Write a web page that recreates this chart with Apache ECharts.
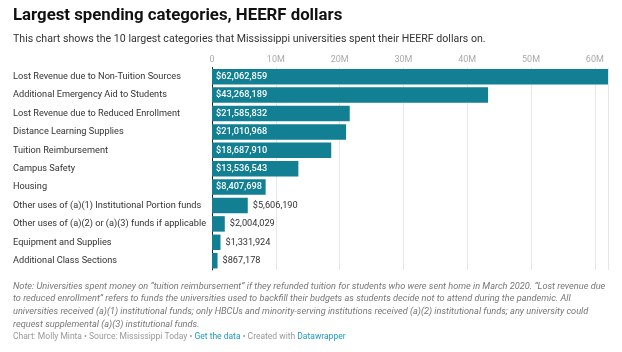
<!DOCTYPE html>
<html><head><meta charset="utf-8">
<script src="https://cdn.jsdelivr.net/npm/echarts@6/dist/echarts.min.js"></script>
<style>html,body{margin:0;padding:0;background:#fff}#c{width:622px;height:352px}</style>
</head><body><div id="c"></div>
<script>
const categories = [
  "Lost Revenue due to Non-Tuition Sources",
  "Additional Emergency Aid to Students",
  "Lost Revenue due to Reduced Enrollment",
  "Distance Learning Supplies",
  "Tuition Reimbursement",
  "Campus Safety",
  "Housing",
  "Other uses of (a)(1) Institutional Portion funds",
  "Other uses of (a)(2) or (a)(3) funds if applicable",
  "Equipment and Supplies",
  "Additional Class Sections"
];
const values = [62062859, 43268189, 21585832, 21010968, 18687910, 13536543, 8407698, 5606190, 2004029, 1331924, 867178];
const tickLabels = ["0", "10M", "20M", "30M", "40M", "50M", "60M"];
const noteLines = [
  "Note: Universities spent money on \u201ctuition reimbursement\u201d if they refunded tuition for students who were sent home in March 2020. \u201cLost revenue due",
  "to reduced enrollment\u201d refers to funds the universities used to backfill their budgets as students decide not to attend during the pandemic. All",
  "universities received (a)(1) institutional funds; only HBCUs and minority-serving institutions received (a)(2) institutional funds; any university could",
  "request supplemental (a)(3) institutional funds."
];

const fmt = v => "$" + v.toLocaleString("en-US");
const FONT = "Roboto, 'Noto Sans', sans-serif";
const insideThreshold = 8000000;

const chart = echarts.init(document.getElementById('c'), null, {renderer: 'canvas'});
const data = values.map(v => ({
  value: v,
  label: v >= insideThreshold
    ? {position: 'insideLeft', color: '#fff', fontWeight: 500, distance: 4}
    : {position: 'right', color: '#333', fontWeight: 'normal', distance: 5}
}));

const graphics = [
  {type: 'text', left: 13, top: 7, style: {text: "Largest spending categories, HEERF dollars", font: "bold 16.8px " + FONT, fill: '#111'}},
  {type: 'text', left: 13, top: 34, style: {text: "This chart shows the 10 largest categories that Mississippi universities spent their HEERF dollars on.", font: "10.6px " + FONT, fill: '#333'}}
];
noteLines.forEach((t, i) => graphics.push({type: 'text', left: 13, top: 282 + i * 12.6, style: {text: t, font: "italic 9.2px " + FONT, fill: '#777'}}));
graphics.push({type: 'text', left: 13, top: 332, style: {
  rich: {g: {fill: '#999', font: "8.5px " + FONT}, l: {fill: '#1d9bc0', font: "8.5px " + FONT}},
  text: "{g|Chart: Molly Minta \u2022 Source: Mississippi Today \u2022 }{l|Get the data}{g| \u2022 Created with }{l|Datawrapper}"
}});

chart.setOption({
  animation: false,
  grid: {left: 212, right: 14, top: 67.5, height: 202.4, containLabel: false},
  xAxis: {
    type: 'value', position: 'top', min: 0, max: values[0], interval: 10000000,
    axisLine: {show: false}, axisTick: {show: false},
    axisLabel: {showMaxLabel: false, color: '#aaa', fontSize: 9, fontFamily: FONT, margin: 3,
      formatter: v => tickLabels[Math.round(v / 10000000)] || ''},
    splitLine: {lineStyle: {color: '#e6e6e6', width: 1}}
  },
  yAxis: {
    type: 'category', data: categories, inverse: true,
    axisLine: {show: true, onZero: false, lineStyle: {color: '#222', width: 1}},
    axisTick: {show: false},
    axisLabel: {align: 'left', margin: 199, color: '#333', fontSize: 9.2, fontFamily: FONT}
  },
  series: [{
    type: 'bar', data: data, barWidth: 15.5, itemStyle: {color: '#137f93'},
    label: {show: true, fontSize: 9.2, fontFamily: FONT, overflow: 'none', formatter: p => fmt(p.value)}
  }],
  graphic: graphics
});
</script></body></html>
